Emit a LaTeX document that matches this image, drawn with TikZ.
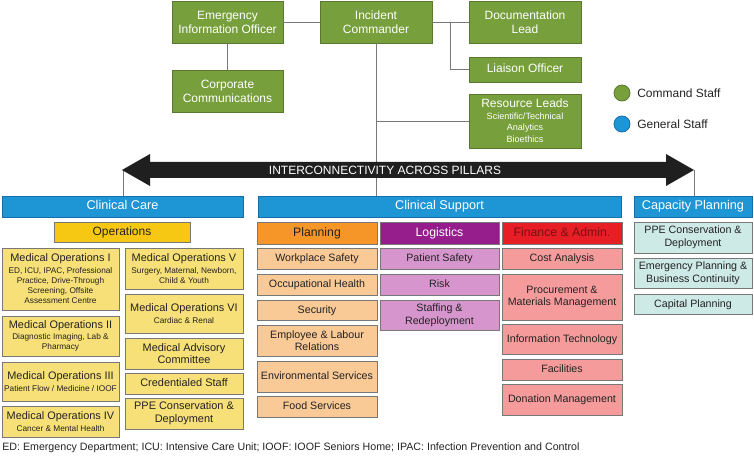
\documentclass[tikz,border=0pt]{standalone}
\usepackage{fontspec}
\setmainfont{Liberation Sans}
\definecolor{cgreen}{RGB}{119,159,59}
\definecolor{cgreenb}{RGB}{90,120,50}
\definecolor{cblue}{RGB}{30,150,214}
\definecolor{cblueb}{RGB}{20,110,170}
\definecolor{cops}{RGB}{246,200,20}
\definecolor{cyel}{RGB}{248,224,120}
\definecolor{cplan}{RGB}{246,150,40}
\definecolor{cplanl}{RGB}{249,201,150}
\definecolor{clog}{RGB}{150,30,140}
\definecolor{clogl}{RGB}{214,150,205}
\definecolor{cfin}{RGB}{232,30,38}
\definecolor{cfint}{RGB}{120,15,20}
\definecolor{cfinl}{RGB}{245,155,155}
\definecolor{ccap}{RGB}{206,234,230}
\definecolor{ctxt}{RGB}{35,35,35}
\definecolor{cline}{RGB}{120,120,120}
\tikzset{
  bxs/.style={draw=cline, line width=0.6pt, inner sep=0pt, align=center, text=ctxt},
  one/.style={text height=0.72em, text depth=0.2em},
  gbox/.style={bxs, fill=cgreen, draw=cgreenb, text=white, font=\fontsize{9}{10.4}\selectfont},
  bbar/.style={bxs, one, fill=cblue, draw=cblueb, text=white, font=\fontsize{9.5}{11}\selectfont},
  opsbox/.style={bxs, one, fill=cops, font=\fontsize{9}{10.4}\selectfont},
  ybox/.style={bxs, fill=cyel, font=\fontsize{8.2}{9.6}\selectfont},
  planh/.style={bxs, one, fill=cplan, font=\fontsize{9.2}{10.6}\selectfont},
  plbox/.style={bxs, fill=cplanl, font=\fontsize{8}{9.4}\selectfont},
  logh/.style={bxs, one, fill=clog, text=white, font=\fontsize{9.2}{10.6}\selectfont},
  lgbox/.style={bxs, fill=clogl, font=\fontsize{8}{9.4}\selectfont},
  finh/.style={bxs, one, fill=cfin, text=cfint, font=\fontsize{9.2}{10.6}\selectfont},
  fnbox/.style={bxs, fill=cfinl, font=\fontsize{8}{9.4}\selectfont},
  cpbox/.style={bxs, fill=ccap, font=\fontsize{8}{9.4}\selectfont},
  conn/.style={draw=cline, line width=0.6pt},
}
\newcommand\bx[7]{\node[#6, minimum width={(#4-#2)*0.75pt}, minimum height={(#5-#3)*0.75pt}] (#1) at ({(#2+#4)/2},{(#3+#5)/2}) {#7};}
\newcommand\sm{\fontsize{6.2}{7.2}\selectfont}
\newcommand\rs{\fontsize{6.8}{8}\selectfont}
\begin{document}
\begin{tikzpicture}[x=0.75pt,y=-0.75pt]
\useasboundingbox (0,0) rectangle (754,456);
% command staff
\bx{eio}{172}{1}{283}{43}{gbox}{Emergency\\Information Officer}
\bx{ic}{320}{1}{432}{43}{gbox}{Incident\\Commander}
\bx{doc}{469}{1}{581}{43}{gbox}{Documentation\\Lead}
\bx{lia}{469}{57}{581}{82}{gbox,one}{Liaison Officer}
\bx{cor}{172}{70}{283}{112}{gbox}{Corporate\\Communications}
\bx{res}{469}{94}{581}{148}{gbox}{Resource Leads\\[-2pt]{\rs Scientific/Technical}\\[-1.5pt]{\rs Analytics}\\[-1.5pt]{\rs Bioethics}}
% legend
\node[circle, fill=cgreen, draw=cgreenb, line width=0.6pt, minimum size=12pt, inner sep=0pt] (lg1) at (622,93) {};
\node[anchor=west, font=\fontsize{9}{10.4}\selectfont, text=ctxt, inner sep=0pt] (lt1) at (637,93) {Command Staff};
\node[circle, fill=cblue, draw=cblueb, line width=0.6pt, minimum size=12pt, inner sep=0pt] (lg2) at (622,124) {};
\node[anchor=west, font=\fontsize{9}{10.4}\selectfont, text=ctxt, inner sep=0pt] (lt2) at (637,124) {General Staff};
% pillars
\bx{cc}{2}{196}{243}{217}{bbar}{Clinical Care}
\bx{cs}{258}{196}{621}{217}{bbar}{Clinical Support}
\bx{cp}{634}{196}{752}{217}{bbar}{Capacity Planning}
% connectors
\draw[conn] (eio.east) -- (ic.west);
\draw[conn] (ic.east) -- (doc.west);
\coordinate (br) at (450,22);
\draw[conn] (br) |- (lia.west);
\draw[conn] (eio.south) -- (cor.north);
\draw[conn] (ic.south) -- (ic.south |- cs.north);
\draw[conn] (ic.south |- res.west) -- (res.west);
\coordinate (al) at (123,170);
\coordinate (ar) at (694,170);
\draw[conn] (al) -- (al |- cc.north);
\draw[conn] (ar) -- (ar |- cp.north);
% arrow
\fill[black!88] (122,170) -- (150,154) -- (150,162) -- (666,162) -- (666,154) -- (694,170) -- (666,186) -- (666,178) -- (150,178) -- (150,186) -- cycle;
\node[text=white, font=\fontsize{9}{10}\selectfont, inner sep=0pt] (arr) at (385,170) {INTERCONNECTIVITY ACROSS PILLARS};
% clinical care
\bx{ops}{54}{222}{190}{242}{opsbox}{Operations}
\bx{m1}{2}{248}{119}{310}{ybox}{Medical Operations I\\[-1pt]{\sm ED, ICU, IPAC, Professional}\\[-2pt]{\sm Practice, Drive-Through}\\[-2pt]{\sm Screening, Offsite}\\[-2pt]{\sm Assessment Centre}}
\bx{m2}{2}{316}{119}{356}{ybox}{Medical Operations II\\[-1pt]{\sm Diagnostic Imaging, Lab \&}\\[-2pt]{\sm Pharmacy}}
\bx{m3}{2}{362}{119}{401}{ybox}{Medical Operations III\\[-1pt]{\sm Patient Flow / Medicine / IOOF}}
\bx{m4}{2}{406}{119}{437}{ybox}{Medical Operations IV\\[-1pt]{\sm Cancer \& Mental Health}}
\bx{m5}{125}{248}{243}{289}{ybox}{Medical Operations V\\[-1pt]{\sm Surgery, Maternal, Newborn,}\\[-2pt]{\sm Child \& Youth}}
\bx{m6}{125}{294}{243}{333}{ybox}{Medical Operations VI\\[-1pt]{\sm Cardiac \& Renal}}
\bx{mac}{125}{338}{243}{369}{ybox}{Medical Advisory\\Committee}
\bx{cst}{125}{373}{243}{394}{ybox,one}{Credentialed Staff}
\bx{ppe1}{125}{398}{243}{429}{ybox}{PPE Conservation \&\\Deployment}
% planning
\bx{pl}{257}{222}{377}{244}{planh}{Planning}
\bx{p1}{257}{248}{377}{269}{plbox,one}{Workplace Safety}
\bx{p2}{257}{274}{377}{295}{plbox,one}{Occupational Health}
\bx{p3}{257}{300}{377}{320}{plbox,one}{Security}
\bx{p4}{257}{325}{377}{356}{plbox}{Employee \& Labour\\Relations}
\bx{p5}{257}{361}{377}{392}{plbox,one}{Environmental Services}
\bx{p6}{257}{396}{377}{417}{plbox,one}{Food Services}
% logistics
\bx{lg}{380}{222}{499}{244}{logh}{Logistics}
\bx{l1}{380}{248}{499}{269}{lgbox,one}{Patient Safety}
\bx{l2}{380}{274}{499}{295}{lgbox,one}{Risk}
\bx{l3}{380}{300}{499}{330}{lgbox}{Staffing \&\\Redeployment}
% finance
\bx{fn}{502}{222}{622}{244}{finh}{Finance \& Admin.}
\bx{f1}{502}{248}{622}{269}{fnbox,one}{Cost Analysis}
\bx{f2}{502}{274}{622}{320}{fnbox}{Procurement \&\\Materials Management}
\bx{f3}{502}{324}{622}{354}{fnbox,one}{Information Technology}
\bx{f4}{502}{359}{622}{380}{fnbox,one}{Facilities}
\bx{f5}{502}{384}{622}{415}{fnbox,one}{Donation Management}
% capacity
\bx{c1}{634}{222}{752}{253}{cpbox}{PPE Conservation \&\\Deployment}
\bx{c2}{634}{258}{752}{288}{cpbox}{Emergency Planning \&\\Business Continuity}
\bx{c3}{634}{294}{752}{314}{cpbox,one}{Capital Planning}
% footer
\node[anchor=west, inner sep=0pt, text=ctxt, font=\fontsize{8}{9}\selectfont] (foot) at (2,448) {ED: Emergency Department; ICU: Intensive Care Unit; IOOF: IOOF Seniors Home; IPAC: Infection Prevention and Control};
\end{tikzpicture}
\end{document}
